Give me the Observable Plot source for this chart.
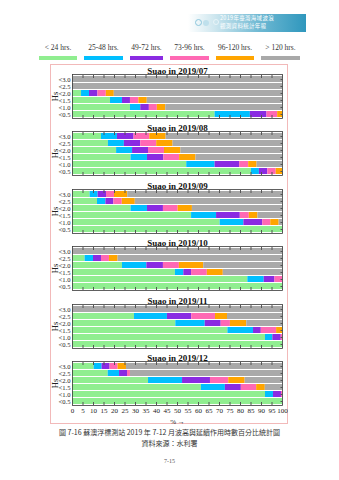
<!DOCTYPE html>
<html><head><meta charset="utf-8">
<script src="https://cdn.jsdelivr.net/npm/d3@7"></script>
<script src="https://cdn.jsdelivr.net/npm/@observablehq/plot@0.6"></script>
<style>
body{margin:0;background:#fff;}
#root{position:relative;width:339px;height:480px;overflow:hidden;font-family:"Liberation Serif",serif;color:#222;}
.abs{position:absolute;}
svg{overflow:visible;}
</style></head><body><div id="root"></div>
<script>
// ---- data ----
const categories = ["< 24 hrs.", "25-48 hrs.", "49-72 hrs.", "73-96 hrs.", "96-120 hrs.", "> 120 hrs."];
const colors = ["#90ee90", "#00bfff", "#8a2be2", "#ff69b4", "#ffa500", "#a9a9a9"];
const hsLevels = ["<3.0", "<2.5", "<2.0", "<1.5", "<1.0", "<0.5"];
const xTicks = [0,5,10,15,20,25,30,35,40,45,50,55,60,65,70,75,80,85,90,95,100];
const months = ["2019/07", "2019/08", "2019/09", "2019/10", "2019/11", "2019/12"];
// percentage per Hs row, in category order
const jul = [
  [0, 0, 0, 0, 0, 100],
  [0, 0, 0, 0, 0, 100],
  [4.3, 3.8, 4, 4, 3.8, 80.1],
  [18.1, 5.7, 3.8, 4, 4, 64.4],
  [27.6, 4.9, 4.1, 3.8, 4, 55.6],
  [67.9, 16.8, 7.9, 5.1, 2.3, 0]
];
const aug = [
  [13.8, 7.6, 7.9, 7.5, 7.8, 55.4],
  [17.1, 7.6, 7.8, 7.6, 7.8, 52.1],
  [21, 7.6, 7.6, 7.6, 7.8, 48.4],
  [27.9, 7.8, 7.8, 7.5, 7.8, 41.2],
  [54.4, 13.5, 11.7, 4.3, 4, 12.1],
  [85.2, 3.8, 4, 4, 3, 0]
];
const sep = [
  [8.4, 3.8, 4, 3.8, 6.3, 73.7],
  [11.9, 4, 3.8, 4, 6.2, 70.1],
  [27.9, 7.8, 7.6, 7, 6.8, 42.9],
  [56.7, 11.9, 11.3, 4.3, 4.1, 11.7],
  [70.3, 11.3, 9, 3.8, 4, 1.6],
  [100, 0, 0, 0, 0, 0]
];
const oct = [
  [0, 0, 0, 0, 0, 100],
  [6, 4, 3.8, 3.8, 4.1, 78.3],
  [23.8, 11.6, 7.9, 7.6, 11.6, 37.5],
  [49, 4, 3.7, 7.5, 7.6, 28.2],
  [83.5, 7.8, 5.1, 3.6, 0, 0],
  [100, 0, 0, 0, 0, 0]
];
const nov = [
  [0, 0, 0, 0, 0, 100],
  [29.5, 15.7, 11.6, 11.3, 5.7, 26.2],
  [49.2, 14, 7.6, 4.4, 7.8, 17],
  [74, 12.2, 3.7, 7.3, 2.8, 0],
  [91.9, 3.5, 4, 0.6, 0, 0],
  [100, 0, 0, 0, 0, 0]
];
const dec = [
  [10.3, 3.8, 3.8, 3.8, 4, 74.3],
  [17, 5.4, 3.8, 1.4, 0, 72.4],
  [36.2, 16.2, 13.3, 8.7, 7.8, 17.8],
  [61.4, 11.4, 7.6, 7.3, 4.1, 8.2],
  [91.9, 3.8, 3.8, 0.5, 0, 0],
  [100, 0, 0, 0, 0, 0]
];
const monthData = [jul, aug, sep, oct, nov, dec];

// ---- layout ----
const root = document.getElementById("root");
function add(html){ root.insertAdjacentHTML("beforeend", html); }

// logo banner
add(`<div class="abs" style="left:188px;top:14px;width:118px;height:18px;background:linear-gradient(to right,rgba(255,255,255,0) 0%,#cfe7ef 22%,#6fb9d3 60%,#2f97bd 100%);"></div>`);
add(`<div class="abs" style="left:195px;top:19px;width:5px;height:5px;border-radius:50%;border:1px solid #8cc6dc;"></div>`);
add(`<div class="abs" style="left:203px;top:20px;width:6px;height:6px;border-radius:50%;background:#bfe0ec;"></div>`);
add(`<div class="abs" style="left:213px;top:19px;width:4px;height:4px;border-radius:50%;border:1px solid #e8f4f8;"></div>`);
add(`<div class="abs" style="left:220px;top:14px;font-family:'Noto Sans CJK TC';font-size:5.5px;line-height:8px;color:#fff;white-space:nowrap;letter-spacing:0.3px;">2019年臺灣海域波浪<br>觀測資料統計年報</div>`);

// legend
const swX = [39, 84, 130, 170, 216, 261];
const swW = [38, 39, 33, 39, 38, 39];
categories.forEach((c, i) => {
  add(`<div class="abs" style="left:${swX[i]-10}px;top:43px;width:${swW[i]+20}px;text-align:center;font-size:7.5px;white-space:nowrap;color:#333;">${c.replace("<","&lt;").replace(">","&gt;")}</div>`);
  add(`<div class="abs" style="left:${swX[i]}px;top:56px;width:${swW[i]}px;height:4px;background:${colors[i]};"></div>`);
});

// pink border
add(`<div class="abs" style="left:50px;top:64px;width:236px;height:358px;border:1px solid #f2b9b9;"></div>`);

// panels
const plotTops = [74, 131, 189, 246, 304, 361];
const mt = 16, ph = 44;
months.forEach((m, k) => {
  const rows = monthData[k];
  const data = [];
  hsLevels.forEach((hs, i) => categories.forEach((c, j) => data.push({hs, cat: c, value: rows[i][j]})));
  const last = k === months.length - 1;
  const mb = last ? 28 : 2;
  const marks = [
    Plot.barX(data, {x: "value", y: "hs", fill: "cat"}),
    Plot.frame({stroke: "#3a3a3a", strokeWidth: 0.8}),
    Plot.axisY({tickSize: 0, tickPadding: 2, label: null, fontSize: 6.6}),
    Plot.axisY({tickSize: 0, tickFormat: () => "", label: "Hs", labelAnchor: "center", labelOffset: 21, fontSize: 8.5}),
    Plot.axisY({anchor: "right", tickSize: -2.5, tickFormat: () => "", label: null, stroke: "#555"}),
    Plot.axisX({anchor: "top", ticks: xTicks, tickSize: -3, tickFormat: () => "", label: null, stroke: "#555"}),
    Plot.axisX({anchor: "bottom", ticks: xTicks, tickSize: -3, tickFormat: () => "", label: null, stroke: "#555"}),
    Plot.text([`Suao in ${m}`], {text: d => d, frameAnchor: "top", dy: -7, fontWeight: "bold", fontSize: 9, fill: "#111"})
  ];
  if (last) marks.push(Plot.axisX({anchor: "bottom", ticks: xTicks, tickSize: 0, tickPadding: 3, label: "%", labelAnchor: "center", labelOffset: 18, fontSize: 7}));
  const chart = Plot.plot({
    width: 339, height: mt + ph + mb,
    marginLeft: 72, marginRight: 57, marginTop: mt, marginBottom: mb,
    style: {fontFamily: "Liberation Serif", fontSize: "8px", color: "#222", background: "transparent"},
    x: {domain: [0, 100]},
    y: {domain: hsLevels, padding: 0.2},
    color: {domain: categories, range: colors},
    marks
  });
  chart.style.position = "absolute";
  chart.style.left = "0px";
  chart.style.top = (plotTops[k] - mt) + "px";
  root.appendChild(chart);
});

// caption
add(`<div class="abs" style="left:0;top:427px;width:339px;text-align:center;font-family:'Noto Sans CJK TC';font-size:7px;color:#333;white-space:nowrap;">圖 7-16 蘇澳浮標測站 2019 年 7-12 月波高與延續作用時數百分比統計圖</div>`);
add(`<div class="abs" style="left:0;top:438px;width:339px;text-align:center;font-family:'Noto Sans CJK TC';font-size:7px;color:#333;white-space:nowrap;">資料來源：水利署</div>`);
add(`<div class="abs" style="left:0;top:458px;width:339px;text-align:center;font-size:6px;color:#555;">7-15</div>`);
</script>
</body></html>
